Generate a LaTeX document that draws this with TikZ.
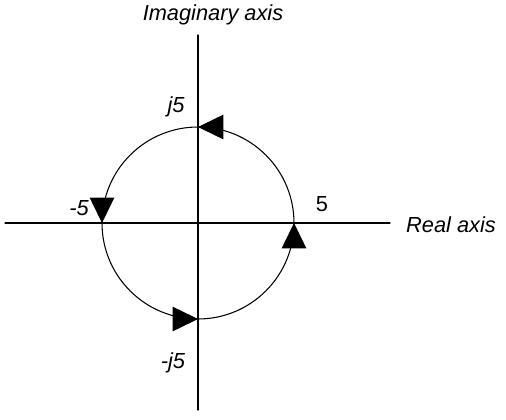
\documentclass[tikz,border=0pt]{standalone}
\usepackage{fontspec}
\setmainfont{Liberation Sans}
\usetikzlibrary{arrows.meta,decorations.markings}

\tikzset{
  axisline/.style={black,line width=0.6pt},
  lbl/.style={font=\fontsize{12.4}{14}\selectfont\itshape,inner sep=0pt},
  flowtip/.style={decoration={markings,
      mark=between positions 0.125 and 0.875 step 0.25 with {\arrow{Triangle[length=14.5pt,width=14pt]}}},
    postaction={decorate}}
}

\begin{document}
\begin{tikzpicture}[x=0.02cm,y=0.02cm,line cap=round,line join=round]
  \useasboundingbox (-198,-196) rectangle (308,223);
  \draw[axisline] (0,188) -- (0,-187);
  \draw[axisline] (-193,0) -- (192,0);
  \draw[axisline,flowtip] (-45:96) arc[start angle=-45,end angle=315,radius=96];
  \node[lbl] (imag) at (15,208) {Imaginary axis};
  \node[lbl] (real) at (253,-2) {Real axis};
  \node[lbl] (jfive) at (-22,116) {j5};
  \node[lbl] (mfive) at (-119,15) {-5};
  \node[lbl,font=\fontsize{12.4}{14}\selectfont] (pfive) at (124,19) {5};
  \node[lbl] (mjfive) at (-25,-140) {-j5};
\end{tikzpicture}
\end{document}
